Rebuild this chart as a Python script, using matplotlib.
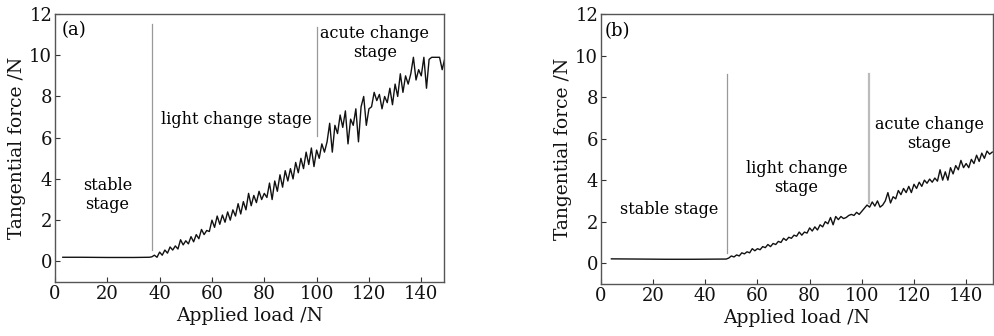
import matplotlib
matplotlib.use("Agg")
import matplotlib.pyplot as plt

plt.rcParams['font.family'] = ['DejaVu Serif']
plt.rcParams['mathtext.fontset'] = 'dejavuserif'

# ---------------- data: panel (a) ----------------
xa_flat = [3, 10, 20, 30, 36]
ya_flat = [0.2, 0.2, 0.19, 0.19, 0.2]
xa_rise = list(range(37, 150))
ya_rise = [0.22, 0.3, 0.2, 0.45, 0.3, 0.55, 0.4, 0.7, 0.55, 0.75,
           0.6, 1.05, 0.8, 1.0, 0.85, 1.2, 0.95, 1.3, 1.1, 1.55,
           1.3, 1.5, 1.45, 2.0, 1.65, 2.2, 1.8, 2.25, 1.9, 2.4,
           2.0, 2.5, 2.2, 2.8, 2.3, 2.9, 2.5, 3.3, 2.7, 3.2,
           2.85, 3.4, 3.0, 3.3, 3.1, 3.8, 3.0, 3.9, 3.4, 4.2,
           3.6, 4.4, 3.9, 4.5, 4.0, 4.8, 4.3, 5.0, 4.5, 5.3,
           4.7, 5.5, 4.6, 5.4, 5.0, 5.7, 5.3, 5.8, 6.7, 5.3,
           6.6, 6.2, 7.1, 6.5, 7.3, 5.7, 6.9, 6.6, 7.4, 5.8,
           7.5, 8.0, 6.6, 7.4, 7.5, 8.2, 7.8, 8.1, 7.4, 8.0,
           7.7, 8.4, 7.6, 8.6, 8.0, 9.1, 8.2, 9.0, 8.6, 9.1,
           9.9, 8.8, 9.3, 9.0, 9.9, 8.4, 9.8, 9.9, 9.9, 9.9,
           9.9, 9.3, 9.85]

# ---------------- data: panel (b) ----------------
xb_flat = [4, 15, 25, 35, 47]
yb_flat = [0.21, 0.2, 0.19, 0.19, 0.2]
xb_rise = list(range(48, 151))
yb_rise = [0.2, 0.25, 0.35, 0.3, 0.4, 0.35, 0.5, 0.45, 0.55, 0.5,
           0.7, 0.6, 0.7, 0.65, 0.8, 0.75, 0.9, 0.8, 0.95, 0.9,
           1.05, 1.0, 1.2, 1.1, 1.25, 1.2, 1.35, 1.3, 1.5, 1.35,
           1.5, 1.45, 1.7, 1.55, 1.75, 1.6, 1.85, 1.75, 2.0, 1.9,
           2.2, 1.85, 2.25, 2.1, 2.25, 2.15, 2.2, 2.3, 2.35, 2.3,
           2.45, 2.35, 2.5, 2.65, 2.8, 2.7, 2.95, 2.75, 3.0, 2.7,
           2.8, 3.0, 3.4, 2.9, 3.2, 3.1, 3.5, 3.3, 3.6, 3.4,
           3.7, 3.4, 3.8, 3.6, 3.9, 3.7, 4.0, 3.85, 4.05, 3.9,
           4.1, 3.95, 4.5, 4.0, 4.4, 4.0, 4.6, 4.3, 4.7, 4.5,
           4.95, 4.6, 4.8, 4.6, 5.0, 4.8, 5.2, 4.9, 5.3, 5.05,
           5.4, 5.25, 5.35]

xticks = [0, 20, 40, 60, 80, 100, 120, 140]
yticks = [0, 2, 4, 6, 8, 10, 12]

# stage separators: (x, ymin, ymax)
sep_a = [(37, 0.55, 11.5), (100.3, 6.1, 11.35)]
sep_b = [(48.3, 0.5, 9.1), (102.9, 2.9, 9.1)]

fig = plt.figure(figsize=(9.94, 3.36), dpi=100)
ax_a = fig.add_axes([0.0553, 0.1607, 0.3914, 0.7976])
ax_b = fig.add_axes([0.6046, 0.1548, 0.3944, 0.8036])

FS = 13
LFS = 13.5
TXT = 11.5

def style(ax, xmax):
    ax.set_xlim(0, xmax)
    ax.set_ylim(-1, 12)
    ax.set_xticks(xticks)
    ax.set_yticks(yticks)
    ax.tick_params(direction='in', length=3.5, width=0.8, labelsize=FS,
                   pad=2, colors='#333333', labelcolor='#111111')
    for s in ax.spines.values():
        s.set_color('#555555')
        s.set_linewidth(1.0)
    ax.set_xlabel('Applied load /N', fontsize=LFS, labelpad=3, color='#111111')
    ax.set_ylabel('Tangential force /N', fontsize=LFS, labelpad=2, color='#111111')

# panel a
ax_a.plot(xa_flat + xa_rise, ya_flat + ya_rise, color='#111111', lw=1.0)
for (x, y0, y1) in sep_a:
    ax_a.plot([x, x], [y0, y1], color='#999999', lw=0.9)
style(ax_a, 148.7)
ax_a.text(2.5, 11.2, '(a)', fontsize=13, va='center', ha='left')
ax_a.text(20.1, 3.2, 'stable\nstage', fontsize=TXT, ha='center', va='center',
          linespacing=1.15)
ax_a.text(69.2, 6.9, 'light change stage', fontsize=TXT, ha='center', va='center')
ax_a.text(122.3, 10.6, 'acute change\nstage', fontsize=TXT, ha='center', va='center',
          linespacing=1.15)

# panel b
ax_b.plot(xb_flat + xb_rise, yb_flat + yb_rise, color='#111111', lw=1.0)
ax_b.plot([sep_b[0][0]] * 2, sep_b[0][1:], color='#999999', lw=0.9)
ax_b.plot([sep_b[1][0]] * 2, sep_b[1][1:], color='#bbbbbb', lw=1.6)
style(ax_b, 150.3)
ax_b.text(1.5, 11.2, '(b)', fontsize=13, va='center', ha='left')
ax_b.text(26.3, 2.6, 'stable stage', fontsize=TXT, ha='center', va='center')
ax_b.text(74.9, 4.1, 'light change\nstage', fontsize=TXT, ha='center', va='center',
          linespacing=1.15)
ax_b.text(125.9, 6.2, 'acute change\nstage', fontsize=TXT, ha='center', va='center',
          linespacing=1.15)

fig.savefig('out.png', dpi=100)
